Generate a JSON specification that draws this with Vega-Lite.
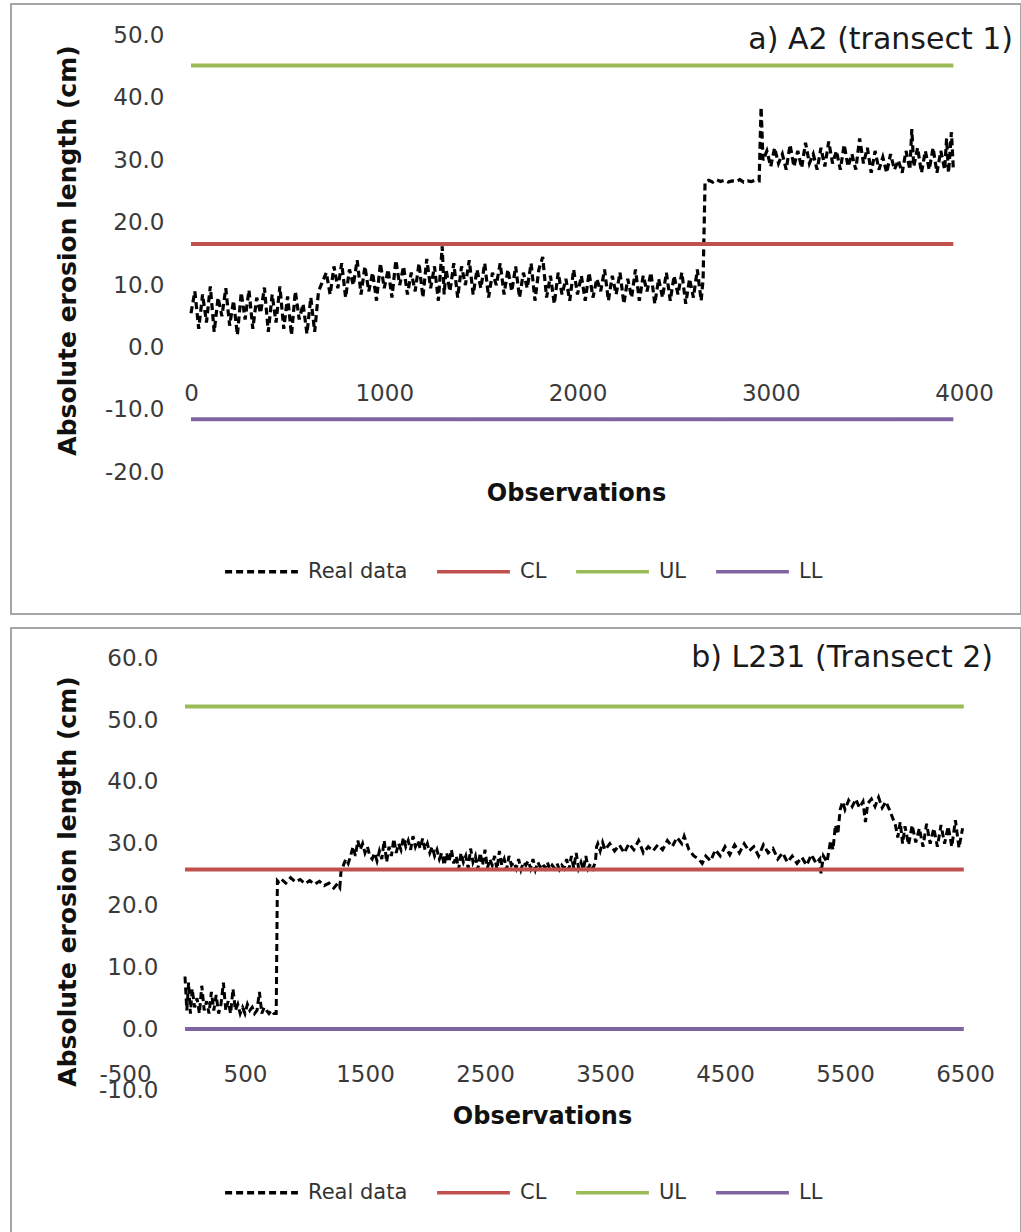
{
"$schema":"https://vega.github.io/schema/vega-lite/v6.json",
"padding":{"top":3,"left":10,"right":0,"bottom":0},
"spacing":12,
"background":"white",
"config":{
"view":{"stroke":"#a6a6a6","strokeWidth":2},
"font":"DejaVu Sans",
"axis":{"domain":false,"ticks":false,"tickSize":0,"grid":false,"labelFont":"DejaVu Sans","labelFontSize":23,"labelColor":"#3a3a3a","labelOverlap":false,"labelFlush":false,"labelBound":false,"titleFont":"DejaVu Sans","titleFontWeight":"bold","titleColor":"#111111","titleAlign":"center","titleBaseline":"middle"},
"axisX":{"titleFontSize":24,"labelExpr":"'' + datum.value"},
"axisY":{"titleFontSize":25,"labelExpr":"datum.value < 0 ? '-' + format(-datum.value, '.1f') : format(datum.value, '.1f')"},
"legend":{"symbolType":"stroke","symbolSize":5300,"symbolStrokeWidth":3.5,"labelFont":"DejaVu Sans","labelFontSize":21,"labelColor":"#333333","labelOffset":8,"columnPadding":22,"padding":0},
"title":{"font":"DejaVu Sans","fontSize":30,"fontWeight":"normal","color":"#1a1a1a","anchor":"end","frame":"group","baseline":"alphabetic"}
},
"resolve":{"scale":{"x":"independent","y":"independent","color":"independent","strokeDash":"independent"},"legend":{"color":"independent","strokeDash":"independent"},"axis":{"x":"independent","y":"independent"}},
"datasets":{
"a":[
{"s":"Real data","x":0,"y":5.5},{"s":"Real data","x":20,"y":9.0},{"s":"Real data","x":40,"y":3.0},{"s":"Real data","x":60,"y":8.5},{"s":"Real data","x":80,"y":4.0},{"s":"Real data","x":100,"y":9.8},{"s":"Real data","x":120,"y":2.5},{"s":"Real data","x":140,"y":8.0},{"s":"Real data","x":160,"y":5.0},{"s":"Real data","x":180,"y":9.5},{"s":"Real data","x":200,"y":3.5},{"s":"Real data","x":220,"y":7.5},{"s":"Real data","x":240,"y":2.0},{"s":"Real data","x":260,"y":8.8},{"s":"Real data","x":280,"y":4.5},{"s":"Real data","x":300,"y":9.2},{"s":"Real data","x":320,"y":3.0},{"s":"Real data","x":340,"y":8.0},{"s":"Real data","x":360,"y":5.5},{"s":"Real data","x":380,"y":9.6},{"s":"Real data","x":400,"y":2.5},{"s":"Real data","x":420,"y":8.5},{"s":"Real data","x":440,"y":4.0},{"s":"Real data","x":460,"y":9.8},{"s":"Real data","x":480,"y":3.0},{"s":"Real data","x":500,"y":8.2},{"s":"Real data","x":520,"y":2.0},{"s":"Real data","x":540,"y":9.0},{"s":"Real data","x":560,"y":4.5},{"s":"Real data","x":580,"y":7.0},{"s":"Real data","x":600,"y":2.2},{"s":"Real data","x":620,"y":8.0},{"s":"Real data","x":640,"y":2.5},{"s":"Real data","x":660,"y":9.0},{"s":"Real data","x":680,"y":10.5},
{"s":"Real data","x":700,"y":12.0},{"s":"Real data","x":720,"y":8.5},{"s":"Real data","x":740,"y":13.0},{"s":"Real data","x":760,"y":9.5},{"s":"Real data","x":780,"y":13.5},{"s":"Real data","x":800,"y":8.0},{"s":"Real data","x":820,"y":12.5},{"s":"Real data","x":840,"y":10.0},{"s":"Real data","x":860,"y":14.0},{"s":"Real data","x":880,"y":8.5},{"s":"Real data","x":900,"y":13.0},{"s":"Real data","x":920,"y":9.0},{"s":"Real data","x":940,"y":12.0},{"s":"Real data","x":960,"y":7.5},{"s":"Real data","x":980,"y":13.5},{"s":"Real data","x":1000,"y":9.5},{"s":"Real data","x":1020,"y":12.5},{"s":"Real data","x":1040,"y":8.0},{"s":"Real data","x":1060,"y":14.0},{"s":"Real data","x":1080,"y":10.0},{"s":"Real data","x":1100,"y":13.0},{"s":"Real data","x":1120,"y":8.5},{"s":"Real data","x":1140,"y":12.0},{"s":"Real data","x":1160,"y":9.0},{"s":"Real data","x":1180,"y":13.5},{"s":"Real data","x":1200,"y":8.0},{"s":"Real data","x":1220,"y":14.2},{"s":"Real data","x":1240,"y":9.5},{"s":"Real data","x":1260,"y":13.0},{"s":"Real data","x":1280,"y":7.5},{"s":"Real data","x":1300,"y":16.2},{"s":"Real data","x":1310,"y":8.5},{"s":"Real data","x":1320,"y":12.5},{"s":"Real data","x":1340,"y":9.0},{"s":"Real data","x":1360,"y":13.5},{"s":"Real data","x":1380,"y":8.0},{"s":"Real data","x":1400,"y":13.0},{"s":"Real data","x":1420,"y":10.0},{"s":"Real data","x":1440,"y":14.0},{"s":"Real data","x":1460,"y":8.5},{"s":"Real data","x":1480,"y":12.5},{"s":"Real data","x":1500,"y":9.5},{"s":"Real data","x":1520,"y":13.5},{"s":"Real data","x":1540,"y":8.0},{"s":"Real data","x":1560,"y":12.0},{"s":"Real data","x":1580,"y":10.0},{"s":"Real data","x":1600,"y":13.5},{"s":"Real data","x":1620,"y":8.5},{"s":"Real data","x":1640,"y":12.5},{"s":"Real data","x":1660,"y":9.0},{"s":"Real data","x":1680,"y":13.0},{"s":"Real data","x":1700,"y":8.0},{"s":"Real data","x":1720,"y":12.0},{"s":"Real data","x":1740,"y":9.5},{"s":"Real data","x":1760,"y":13.5},{"s":"Real data","x":1780,"y":7.5},{"s":"Real data","x":1800,"y":12.5},{"s":"Real data","x":1820,"y":14.5},{"s":"Real data","x":1840,"y":8.0},{"s":"Real data","x":1860,"y":11.5},{"s":"Real data","x":1880,"y":7.0},{"s":"Real data","x":1900,"y":12.0},{"s":"Real data","x":1920,"y":8.5},{"s":"Real data","x":1940,"y":11.0},{"s":"Real data","x":1960,"y":7.5},{"s":"Real data","x":1980,"y":12.5},{"s":"Real data","x":2000,"y":8.5},{"s":"Real data","x":2020,"y":11.5},{"s":"Real data","x":2040,"y":7.5},{"s":"Real data","x":2060,"y":12.0},{"s":"Real data","x":2080,"y":8.0},{"s":"Real data","x":2100,"y":11.0},{"s":"Real data","x":2120,"y":9.0},{"s":"Real data","x":2140,"y":12.5},{"s":"Real data","x":2160,"y":7.5},{"s":"Real data","x":2180,"y":11.5},{"s":"Real data","x":2200,"y":8.5},{"s":"Real data","x":2220,"y":12.0},{"s":"Real data","x":2240,"y":7.0},{"s":"Real data","x":2260,"y":11.0},{"s":"Real data","x":2280,"y":8.0},{"s":"Real data","x":2300,"y":12.5},{"s":"Real data","x":2320,"y":7.5},{"s":"Real data","x":2340,"y":11.5},{"s":"Real data","x":2360,"y":9.0},{"s":"Real data","x":2380,"y":12.0},{"s":"Real data","x":2400,"y":7.0},{"s":"Real data","x":2420,"y":11.0},{"s":"Real data","x":2440,"y":8.0},{"s":"Real data","x":2460,"y":12.0},{"s":"Real data","x":2480,"y":7.5},{"s":"Real data","x":2500,"y":11.5},{"s":"Real data","x":2520,"y":8.5},{"s":"Real data","x":2540,"y":12.0},{"s":"Real data","x":2560,"y":7.0},{"s":"Real data","x":2580,"y":11.0},{"s":"Real data","x":2600,"y":8.0},{"s":"Real data","x":2620,"y":12.5},{"s":"Real data","x":2640,"y":7.5},{"s":"Real data","x":2650,"y":11.0},{"s":"Real data","x":2660,"y":26.5},
{"s":"Real data","x":2680,"y":26.8},{"s":"Real data","x":2700,"y":26.5},{"s":"Real data","x":2720,"y":26.9},{"s":"Real data","x":2740,"y":26.6},{"s":"Real data","x":2760,"y":26.8},{"s":"Real data","x":2780,"y":26.5},{"s":"Real data","x":2800,"y":26.7},{"s":"Real data","x":2820,"y":26.6},{"s":"Real data","x":2840,"y":26.9},{"s":"Real data","x":2860,"y":26.5},{"s":"Real data","x":2880,"y":26.7},{"s":"Real data","x":2900,"y":26.6},{"s":"Real data","x":2920,"y":26.8},{"s":"Real data","x":2940,"y":26.7},{"s":"Real data","x":2950,"y":38.5},{"s":"Real data","x":2960,"y":30.0},
{"s":"Real data","x":2980,"y":31.5},{"s":"Real data","x":3000,"y":29.0},{"s":"Real data","x":3020,"y":32.0},{"s":"Real data","x":3040,"y":29.5},{"s":"Real data","x":3060,"y":31.0},{"s":"Real data","x":3080,"y":28.5},{"s":"Real data","x":3100,"y":32.5},{"s":"Real data","x":3120,"y":29.0},{"s":"Real data","x":3140,"y":31.5},{"s":"Real data","x":3160,"y":28.8},{"s":"Real data","x":3180,"y":32.8},{"s":"Real data","x":3200,"y":29.5},{"s":"Real data","x":3220,"y":31.0},{"s":"Real data","x":3240,"y":28.5},{"s":"Real data","x":3260,"y":32.0},{"s":"Real data","x":3280,"y":29.0},{"s":"Real data","x":3300,"y":33.0},{"s":"Real data","x":3320,"y":29.5},{"s":"Real data","x":3340,"y":31.5},{"s":"Real data","x":3360,"y":28.5},{"s":"Real data","x":3380,"y":32.5},{"s":"Real data","x":3400,"y":29.0},{"s":"Real data","x":3420,"y":31.0},{"s":"Real data","x":3440,"y":28.5},{"s":"Real data","x":3460,"y":33.5},{"s":"Real data","x":3480,"y":29.5},{"s":"Real data","x":3500,"y":32.0},{"s":"Real data","x":3520,"y":28.0},{"s":"Real data","x":3540,"y":31.5},{"s":"Real data","x":3560,"y":28.5},{"s":"Real data","x":3580,"y":30.5},{"s":"Real data","x":3600,"y":28.0},{"s":"Real data","x":3620,"y":31.0},{"s":"Real data","x":3640,"y":28.5},{"s":"Real data","x":3660,"y":30.0},{"s":"Real data","x":3680,"y":28.0},{"s":"Real data","x":3700,"y":31.5},{"s":"Real data","x":3720,"y":28.5},{"s":"Real data","x":3730,"y":35.0},{"s":"Real data","x":3740,"y":29.0},{"s":"Real data","x":3760,"y":32.0},{"s":"Real data","x":3780,"y":28.0},{"s":"Real data","x":3800,"y":31.5},{"s":"Real data","x":3820,"y":28.5},{"s":"Real data","x":3840,"y":32.0},{"s":"Real data","x":3860,"y":28.0},{"s":"Real data","x":3880,"y":31.5},{"s":"Real data","x":3900,"y":28.5},{"s":"Real data","x":3910,"y":33.5},{"s":"Real data","x":3920,"y":28.0},{"s":"Real data","x":3935,"y":34.5},{"s":"Real data","x":3945,"y":28.5}
],
"al":[
{"s":"CL","x":0,"y":16.6},{"s":"CL","x":3945,"y":16.6},
{"s":"UL","x":0,"y":45.2},{"s":"UL","x":3945,"y":45.2},
{"s":"LL","x":0,"y":-11.5},{"s":"LL","x":3945,"y":-11.5}
],
"b":[
{"s":"Real data","x":0,"y":8.5},{"s":"Real data","x":15,"y":3.0},{"s":"Real data","x":30,"y":7.5},{"s":"Real data","x":45,"y":2.5},{"s":"Real data","x":60,"y":6.5},{"s":"Real data","x":80,"y":3.5},{"s":"Real data","x":100,"y":5.0},{"s":"Real data","x":120,"y":2.5},{"s":"Real data","x":140,"y":7.0},{"s":"Real data","x":160,"y":3.0},{"s":"Real data","x":180,"y":4.5},{"s":"Real data","x":200,"y":2.5},{"s":"Real data","x":220,"y":6.0},{"s":"Real data","x":240,"y":3.0},{"s":"Real data","x":260,"y":5.5},{"s":"Real data","x":280,"y":2.5},{"s":"Real data","x":300,"y":4.0},{"s":"Real data","x":320,"y":7.5},{"s":"Real data","x":340,"y":3.0},{"s":"Real data","x":360,"y":4.5},{"s":"Real data","x":380,"y":2.5},{"s":"Real data","x":400,"y":6.5},{"s":"Real data","x":420,"y":3.0},{"s":"Real data","x":440,"y":4.0},{"s":"Real data","x":460,"y":2.5},{"s":"Real data","x":480,"y":3.5},{"s":"Real data","x":500,"y":2.5},{"s":"Real data","x":520,"y":4.0},{"s":"Real data","x":540,"y":3.0},{"s":"Real data","x":560,"y":3.5},{"s":"Real data","x":580,"y":2.5},{"s":"Real data","x":600,"y":3.0},{"s":"Real data","x":620,"y":6.0},{"s":"Real data","x":640,"y":2.5},{"s":"Real data","x":660,"y":3.5},{"s":"Real data","x":680,"y":3.0},{"s":"Real data","x":700,"y":2.5},{"s":"Real data","x":720,"y":3.0},{"s":"Real data","x":740,"y":2.5},{"s":"Real data","x":760,"y":2.5},{"s":"Real data","x":770,"y":24.0},
{"s":"Real data","x":780,"y":23.8},{"s":"Real data","x":800,"y":24.3},{"s":"Real data","x":840,"y":23.6},{"s":"Real data","x":880,"y":24.5},{"s":"Real data","x":920,"y":23.8},{"s":"Real data","x":960,"y":24.2},{"s":"Real data","x":1000,"y":23.5},{"s":"Real data","x":1040,"y":24.0},{"s":"Real data","x":1080,"y":23.4},{"s":"Real data","x":1120,"y":23.9},{"s":"Real data","x":1160,"y":23.2},{"s":"Real data","x":1200,"y":23.6},{"s":"Real data","x":1240,"y":22.8},{"s":"Real data","x":1270,"y":23.5},{"s":"Real data","x":1290,"y":22.9},{"s":"Real data","x":1300,"y":25.5},
{"s":"Real data","x":1320,"y":26.5},{"s":"Real data","x":1340,"y":27.5},{"s":"Real data","x":1360,"y":26.8},{"s":"Real data","x":1380,"y":28.0},{"s":"Real data","x":1400,"y":29.5},{"s":"Real data","x":1420,"y":28.0},{"s":"Real data","x":1440,"y":30.5},{"s":"Real data","x":1460,"y":29.0},{"s":"Real data","x":1480,"y":30.0},{"s":"Real data","x":1500,"y":28.5},{"s":"Real data","x":1520,"y":29.5},{"s":"Real data","x":1540,"y":28.0},{"s":"Real data","x":1560,"y":27.5},{"s":"Real data","x":1580,"y":28.5},{"s":"Real data","x":1600,"y":27.2},{"s":"Real data","x":1620,"y":28.8},{"s":"Real data","x":1640,"y":27.5},{"s":"Real data","x":1660,"y":30.5},{"s":"Real data","x":1680,"y":27.0},{"s":"Real data","x":1700,"y":29.5},{"s":"Real data","x":1720,"y":28.0},{"s":"Real data","x":1740,"y":30.8},{"s":"Real data","x":1760,"y":28.5},{"s":"Real data","x":1780,"y":30.0},{"s":"Real data","x":1800,"y":29.0},{"s":"Real data","x":1820,"y":31.0},{"s":"Real data","x":1840,"y":29.5},{"s":"Real data","x":1860,"y":30.5},{"s":"Real data","x":1880,"y":29.0},{"s":"Real data","x":1900,"y":31.2},{"s":"Real data","x":1920,"y":29.5},{"s":"Real data","x":1940,"y":30.5},{"s":"Real data","x":1960,"y":29.2},{"s":"Real data","x":1980,"y":30.8},{"s":"Real data","x":2000,"y":29.0},{"s":"Real data","x":2020,"y":30.0},{"s":"Real data","x":2040,"y":28.5},{"s":"Real data","x":2060,"y":29.5},{"s":"Real data","x":2080,"y":28.0},{"s":"Real data","x":2100,"y":29.0},{"s":"Real data","x":2120,"y":27.5},{"s":"Real data","x":2140,"y":28.5},{"s":"Real data","x":2160,"y":26.5},{"s":"Real data","x":2180,"y":28.5},{"s":"Real data","x":2200,"y":27.0},{"s":"Real data","x":2220,"y":29.0},{"s":"Real data","x":2240,"y":26.8},{"s":"Real data","x":2260,"y":28.0},{"s":"Real data","x":2280,"y":25.8},{"s":"Real data","x":2300,"y":28.5},{"s":"Real data","x":2320,"y":27.0},{"s":"Real data","x":2340,"y":28.0},{"s":"Real data","x":2360,"y":26.0},{"s":"Real data","x":2380,"y":29.2},{"s":"Real data","x":2400,"y":27.0},{"s":"Real data","x":2420,"y":28.0},{"s":"Real data","x":2440,"y":25.8},{"s":"Real data","x":2460,"y":28.5},{"s":"Real data","x":2480,"y":26.5},{"s":"Real data","x":2500,"y":29.0},{"s":"Real data","x":2520,"y":26.0},{"s":"Real data","x":2540,"y":27.5},{"s":"Real data","x":2560,"y":26.5},{"s":"Real data","x":2580,"y":28.0},{"s":"Real data","x":2600,"y":25.8},{"s":"Real data","x":2620,"y":28.8},{"s":"Real data","x":2640,"y":26.5},{"s":"Real data","x":2660,"y":27.5},{"s":"Real data","x":2680,"y":25.8},{"s":"Real data","x":2700,"y":28.0},{"s":"Real data","x":2720,"y":26.5},{"s":"Real data","x":2740,"y":27.0},{"s":"Real data","x":2760,"y":26.0},{"s":"Real data","x":2780,"y":27.5},{"s":"Real data","x":2800,"y":25.8},{"s":"Real data","x":2820,"y":27.0},{"s":"Real data","x":2840,"y":26.5},{"s":"Real data","x":2860,"y":27.2},{"s":"Real data","x":2880,"y":26.0},{"s":"Real data","x":2900,"y":27.5},{"s":"Real data","x":2920,"y":25.8},{"s":"Real data","x":2940,"y":27.0},{"s":"Real data","x":2960,"y":26.2},{"s":"Real data","x":2980,"y":26.8},{"s":"Real data","x":3000,"y":26.0},{"s":"Real data","x":3020,"y":27.0},{"s":"Real data","x":3040,"y":25.8},{"s":"Real data","x":3060,"y":26.5},{"s":"Real data","x":3080,"y":26.0},{"s":"Real data","x":3100,"y":26.8},{"s":"Real data","x":3120,"y":25.8},{"s":"Real data","x":3140,"y":26.5},{"s":"Real data","x":3160,"y":26.0},{"s":"Real data","x":3180,"y":27.5},{"s":"Real data","x":3200,"y":25.8},{"s":"Real data","x":3220,"y":28.0},{"s":"Real data","x":3240,"y":26.0},{"s":"Real data","x":3260,"y":28.5},{"s":"Real data","x":3280,"y":26.0},{"s":"Real data","x":3300,"y":27.0},{"s":"Real data","x":3320,"y":25.8},{"s":"Real data","x":3340,"y":28.0},{"s":"Real data","x":3360,"y":26.0},{"s":"Real data","x":3380,"y":26.8},{"s":"Real data","x":3400,"y":26.0},{"s":"Real data","x":3420,"y":27.0},{"s":"Real data","x":3430,"y":29.5},
{"s":"Real data","x":3440,"y":30.0},{"s":"Real data","x":3460,"y":28.8},{"s":"Real data","x":3480,"y":30.2},{"s":"Real data","x":3500,"y":29.0},{"s":"Real data","x":3540,"y":30.0},{"s":"Real data","x":3580,"y":28.8},{"s":"Real data","x":3620,"y":29.8},{"s":"Real data","x":3660,"y":28.5},{"s":"Real data","x":3700,"y":30.0},{"s":"Real data","x":3740,"y":29.0},{"s":"Real data","x":3780,"y":30.5},{"s":"Real data","x":3820,"y":28.5},{"s":"Real data","x":3860,"y":29.5},{"s":"Real data","x":3900,"y":28.8},{"s":"Real data","x":3940,"y":29.8},{"s":"Real data","x":3980,"y":29.0},{"s":"Real data","x":4020,"y":30.5},{"s":"Real data","x":4060,"y":29.5},{"s":"Real data","x":4100,"y":31.0},{"s":"Real data","x":4140,"y":30.0},{"s":"Real data","x":4160,"y":31.2},{"s":"Real data","x":4200,"y":29.0},{"s":"Real data","x":4240,"y":28.0},{"s":"Real data","x":4280,"y":27.5},{"s":"Real data","x":4310,"y":26.8},{"s":"Real data","x":4340,"y":28.0},{"s":"Real data","x":4380,"y":27.2},{"s":"Real data","x":4420,"y":29.0},{"s":"Real data","x":4460,"y":28.0},{"s":"Real data","x":4500,"y":29.5},{"s":"Real data","x":4540,"y":28.2},{"s":"Real data","x":4580,"y":29.8},{"s":"Real data","x":4620,"y":28.5},{"s":"Real data","x":4660,"y":30.0},{"s":"Real data","x":4700,"y":28.8},{"s":"Real data","x":4740,"y":29.5},{"s":"Real data","x":4780,"y":28.0},{"s":"Real data","x":4820,"y":29.8},{"s":"Real data","x":4860,"y":28.5},{"s":"Real data","x":4900,"y":29.2},{"s":"Real data","x":4940,"y":27.5},{"s":"Real data","x":4980,"y":28.5},{"s":"Real data","x":5020,"y":27.0},{"s":"Real data","x":5060,"y":28.0},{"s":"Real data","x":5100,"y":26.8},{"s":"Real data","x":5140,"y":27.8},{"s":"Real data","x":5180,"y":26.5},{"s":"Real data","x":5220,"y":28.2},{"s":"Real data","x":5260,"y":26.8},{"s":"Real data","x":5290,"y":27.5},{"s":"Real data","x":5300,"y":25.2},{"s":"Real data","x":5320,"y":28.0},{"s":"Real data","x":5350,"y":27.0},{"s":"Real data","x":5380,"y":30.5},{"s":"Real data","x":5400,"y":29.0},{"s":"Real data","x":5420,"y":33.0},{"s":"Real data","x":5440,"y":31.5},{"s":"Real data","x":5460,"y":35.5},{"s":"Real data","x":5480,"y":36.8},{"s":"Real data","x":5500,"y":35.5},{"s":"Real data","x":5530,"y":37.0},{"s":"Real data","x":5560,"y":36.0},{"s":"Real data","x":5590,"y":37.2},{"s":"Real data","x":5620,"y":35.8},{"s":"Real data","x":5650,"y":36.8},{"s":"Real data","x":5670,"y":33.5},{"s":"Real data","x":5690,"y":36.5},{"s":"Real data","x":5720,"y":37.2},{"s":"Real data","x":5750,"y":36.0},{"s":"Real data","x":5780,"y":37.5},{"s":"Real data","x":5810,"y":35.8},{"s":"Real data","x":5840,"y":36.8},{"s":"Real data","x":5870,"y":35.5},{"s":"Real data","x":5900,"y":34.0},{"s":"Real data","x":5920,"y":33.0},{"s":"Real data","x":5940,"y":31.0},{"s":"Real data","x":5960,"y":33.5},{"s":"Real data","x":5980,"y":30.0},{"s":"Real data","x":6000,"y":32.8},{"s":"Real data","x":6030,"y":29.8},{"s":"Real data","x":6060,"y":33.0},{"s":"Real data","x":6090,"y":30.2},{"s":"Real data","x":6120,"y":32.5},{"s":"Real data","x":6150,"y":29.5},{"s":"Real data","x":6180,"y":33.2},{"s":"Real data","x":6210,"y":30.0},{"s":"Real data","x":6240,"y":32.5},{"s":"Real data","x":6270,"y":29.5},{"s":"Real data","x":6300,"y":33.0},{"s":"Real data","x":6330,"y":30.0},{"s":"Real data","x":6360,"y":32.8},{"s":"Real data","x":6390,"y":29.5},{"s":"Real data","x":6420,"y":33.8},{"s":"Real data","x":6450,"y":29.3},{"s":"Real data","x":6480,"y":32.5}
],
"bl":[
{"s":"CL","x":0,"y":25.8},{"s":"CL","x":6490,"y":25.8},
{"s":"UL","x":0,"y":52.2},{"s":"UL","x":6490,"y":52.2},
{"s":"LL","x":0,"y":0},{"s":"LL","x":6490,"y":0}
]
},
"vconcat":[
{
"width":1010,"height":610,
"title":{"text":"a) A2 (transect 1)","offset":-51,"dx":-8},
"encoding":{
"x":{"field":"x","type":"quantitative","scale":{"domain":[-931.4,4295],"nice":false,"zero":false},"axis":{"values":[0,1000,2000,3000,4000],"offset":-266.5,"labelPadding":35,"title":"Observations","titleX":565,"titleY":145.5}},
"y":{"field":"y","type":"quantitative","scale":{"domain":[-42.71,55.05],"nice":false,"zero":false},"axis":{"values":[-20,-10,0,10,20,30,40,50],"offset":-180,"labelPadding":27,"title":"Absolute erosion length (cm)","titleX":-124,"titleY":246}}
},
"layer":[
{"data":{"values":[{}]},"mark":{"type":"rule","color":"#8c8c8c","strokeWidth":1.5},"encoding":{"x":{"datum":0,"type":"quantitative","scale":{"domain":[-931.4,4295],"nice":false,"zero":false}},"y":{"datum":-20,"type":"quantitative","scale":{"domain":[-42.71,55.05],"nice":false,"zero":false}},"y2":{"datum":50}}},
{"data":{"values":[{}]},"mark":{"type":"rule","color":"#8c8c8c","strokeWidth":1.5},"encoding":{"x":{"datum":0,"type":"quantitative","scale":{"domain":[-931.4,4295],"nice":false,"zero":false}},"x2":{"datum":4000},"y":{"datum":0,"type":"quantitative","scale":{"domain":[-42.71,55.05],"nice":false,"zero":false}}}},
{"data":{"name":"a"},"mark":{"type":"line","strokeWidth":3.2},"encoding":{
"color":{"field":"s","type":"nominal","scale":{"domain":["Real data","CL","UL","LL"],"range":["#000000","#C0504D","#9BBB59","#8064A2"]},"legend":{"title":null,"orient":"none","direction":"horizontal","legendX":212,"legendY":529}},
"strokeDash":{"field":"s","type":"nominal","scale":{"domain":["Real data","CL","UL","LL"],"range":[[7,4],[1,0],[1,0],[1,0]]},"legend":{"title":null,"orient":"none","direction":"horizontal","legendX":212,"legendY":529}}}},
{"data":{"name":"al"},"mark":{"type":"line","strokeWidth":4},"encoding":{
"color":{"field":"s","type":"nominal","scale":{"domain":["Real data","CL","UL","LL"],"range":["#000000","#C0504D","#9BBB59","#8064A2"]},"legend":{"title":null,"orient":"none","direction":"horizontal","legendX":212,"legendY":529}},
"strokeDash":{"field":"s","type":"nominal","scale":{"domain":["Real data","CL","UL","LL"],"range":[[7,4],[1,0],[1,0],[1,0]]},"legend":{"title":null,"orient":"none","direction":"horizontal","legendX":212,"legendY":529}}}}
]
},
{
"width":1010,"height":606,
"title":{"text":"b) L231 (Transect 2)","offset":-45,"dx":-28},
"encoding":{
"x":{"field":"x","type":"quantitative","scale":{"domain":[-1450,6966.7],"nice":false,"zero":false},"axis":{"values":[-500,500,1500,2500,3500,4500,5500,6500],"offset":-205,"labelPadding":34,"title":"Observations","titleX":531,"titleY":87}},
"y":{"field":"y","type":"quantitative","scale":{"domain":[-33.17,64.89],"nice":false,"zero":false},"axis":{"values":[-10,0,10,20,30,40,50,60],"offset":-174,"labelPadding":27,"title":"Absolute erosion length (cm)","titleX":-118,"titleY":253}}
},
"layer":[
{"data":{"values":[{}]},"mark":{"type":"rule","color":"#8c8c8c","strokeWidth":1.5},"encoding":{"x":{"datum":0,"type":"quantitative","scale":{"domain":[-1450,6966.7],"nice":false,"zero":false}},"y":{"datum":-10,"type":"quantitative","scale":{"domain":[-33.17,64.89],"nice":false,"zero":false}},"y2":{"datum":60}}},
{"data":{"values":[{}]},"mark":{"type":"rule","color":"#8c8c8c","strokeWidth":1.5},"encoding":{"x":{"datum":-500,"type":"quantitative","scale":{"domain":[-1450,6966.7],"nice":false,"zero":false}},"x2":{"datum":6500},"y":{"datum":0,"type":"quantitative","scale":{"domain":[-33.17,64.89],"nice":false,"zero":false}}}},
{"data":{"name":"b"},"mark":{"type":"line","strokeWidth":3},"encoding":{
"color":{"field":"s","type":"nominal","scale":{"domain":["Real data","CL","UL","LL"],"range":["#000000","#C0504D","#9BBB59","#8064A2"]},"legend":{"title":null,"orient":"none","direction":"horizontal","legendX":212,"legendY":526}},
"strokeDash":{"field":"s","type":"nominal","scale":{"domain":["Real data","CL","UL","LL"],"range":[[7,4],[1,0],[1,0],[1,0]]},"legend":{"title":null,"orient":"none","direction":"horizontal","legendX":212,"legendY":526}}}},
{"data":{"name":"bl"},"mark":{"type":"line","strokeWidth":4},"encoding":{
"color":{"field":"s","type":"nominal","scale":{"domain":["Real data","CL","UL","LL"],"range":["#000000","#C0504D","#9BBB59","#8064A2"]},"legend":{"title":null,"orient":"none","direction":"horizontal","legendX":212,"legendY":526}},
"strokeDash":{"field":"s","type":"nominal","scale":{"domain":["Real data","CL","UL","LL"],"range":[[7,4],[1,0],[1,0],[1,0]]},"legend":{"title":null,"orient":"none","direction":"horizontal","legendX":212,"legendY":526}}}}
]
}
]
}
